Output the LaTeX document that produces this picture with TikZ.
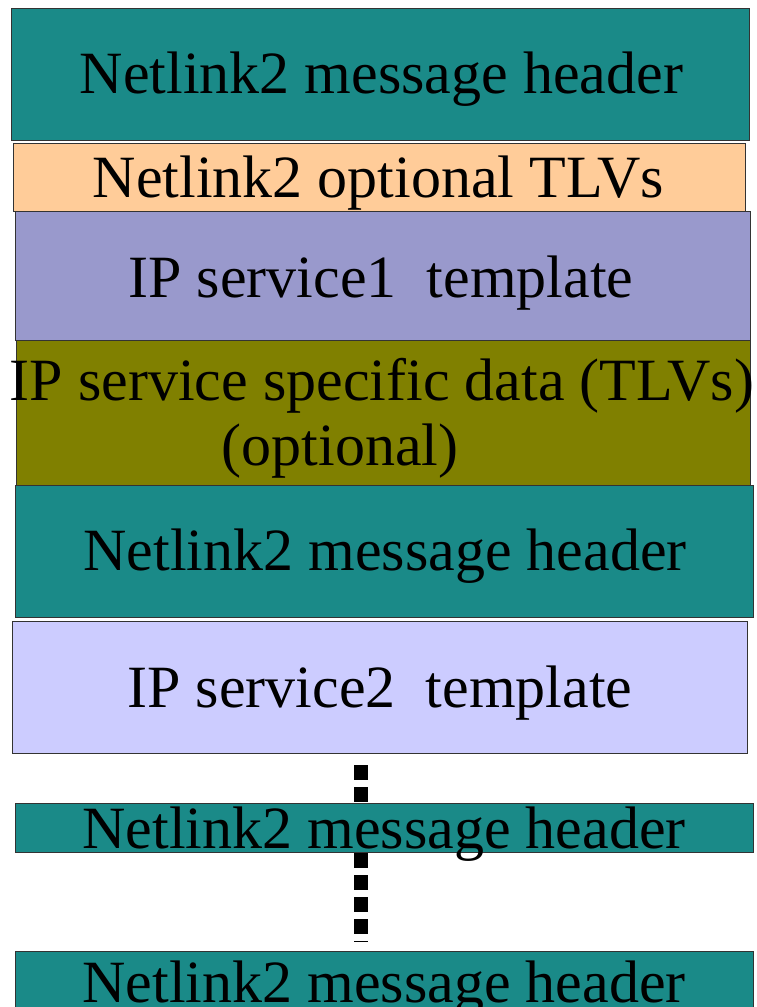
\documentclass[tikz,border=0pt]{standalone}
\usepackage{fontspec}
\setmainfont{Liberation Serif}
\usepackage{xcolor}
\usetikzlibrary{positioning}

\definecolor{nlteal}{RGB}{26,138,136}
\definecolor{nlpeach}{HTML}{FFCC99}
\definecolor{nlpurple}{HTML}{9999CC}
\definecolor{nlolive}{HTML}{808000}
\definecolor{nllavender}{HTML}{CCCCFF}

\tikzset{
  layer/.style={draw=black!80,line width=0.75pt},
  caption/.style={font=\fontsize{45}{49}\selectfont,anchor=base,inner sep=0pt}
}

\begin{document}
\begin{tikzpicture}[x=0.75pt,y=-0.75pt,line join=miter]
      \useasboundingbox (0,0) rectangle (757,1007);

      % message 1
      \draw[layer,fill=nlteal] (11,8) rectangle (749,140);
      \node[caption] (hdrA) at (381.5,93) {Netlink2 message header};

      \draw[layer,fill=nlpeach] (13,143) rectangle (745,211);
      \node[caption] (tlvA) at (378.5,197) {Netlink2 optional TLVs};

      \draw[layer,fill=nlpurple] (15,211) rectangle (750,340);
      \node[caption] (tmplA) at (381,297) {IP service1\ \ template};

      \draw[layer,fill=nlolive] (16,340) rectangle (750,485);
      \node[caption] (specA) at (382,400) {IP service specific data (TLVs)};
      \node[caption] (specB) at (340,465) {(optional)};

      % message 2
      \draw[layer,fill=nlteal] (15,485) rectangle (753,617);
      \node[caption] (hdrB) at (385,570) {Netlink2 message header};

      \draw[layer,fill=nllavender] (12,621) rectangle (747,753);
      \node[caption] (tmplB) at (380,707) {IP service2\ \ template};

      % continuation dots
      \coordinate (dotsTop) at (361,765);
      \coordinate (dotsEnd) at (361,942);
      \draw[line width=10.5pt,dash pattern=on 11pt off 5.5pt] (dotsTop) -- (dotsEnd);

      % further messages
      \draw[layer,fill=nlteal] (15,803) rectangle (753,852);
      \node[caption] (hdrC) at (384,848) {Netlink2 message header};

      \draw[layer,fill=nlteal] (15,951) rectangle (753,1020);
      \node[caption] (hdrD) at (384,1002) {Netlink2 message header};
    \end{tikzpicture}
\end{document}
